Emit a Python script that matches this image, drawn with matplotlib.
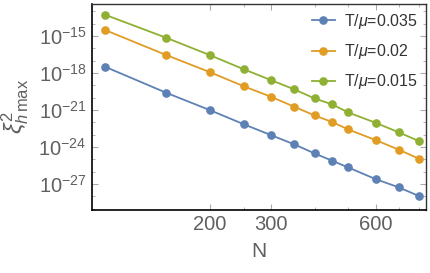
import matplotlib
matplotlib.use('Agg')
import matplotlib.pyplot as plt
import matplotlib.ticker as mticker
import numpy as np

# data (log10 of xi^2_{h max})
N = [100, 150, 200, 250, 300, 350, 400, 450, 500, 600, 700, 800]
exp_035 = [-17.49, -19.60, -21.00, -22.14, -23.03, -23.78, -24.51, -25.11, -25.65, -26.60, -27.27, -27.98]
exp_020 = [-14.51, -16.54, -17.92, -19.06, -19.92, -20.73, -21.43, -21.97, -22.57, -23.43, -24.22, -24.95]
exp_015 = [-13.27, -15.14, -16.54, -17.68, -18.57, -19.32, -20.05, -20.54, -21.19, -22.03, -22.81, -23.52]
labels = ['T/$\\mu$=0.035', 'T/$\\mu$=0.02', 'T/$\\mu$=0.015']
colors = ['#5E81B5', '#E19C24', '#8FB032']

plt.rcParams['font.family'] = ['Liberation Sans', 'DejaVu Sans']
plt.rcParams['mathtext.fontset'] = 'custom'
plt.rcParams['mathtext.rm'] = 'Liberation Sans'
plt.rcParams['mathtext.it'] = 'Liberation Sans:italic'

fig = plt.figure(figsize=(4.31, 2.73), dpi=100)
ax = fig.add_axes([0.2135, 0.2326, 0.7745, 0.7524])

for ys, lab, c in zip([exp_035, exp_020, exp_015], labels, colors):
    ax.plot(N, 10.0 ** np.array(ys), '-o', color=c, lw=1.3, ms=5.2, label=lab)

ax.set_xscale('log')
ax.set_yscale('log')
ax.set_xlim(91.6, 836)
ax.set_ylim(10 ** -29.06, 10 ** -12.40)

ax.xaxis.set_major_locator(mticker.FixedLocator([200, 300, 600]))
ax.xaxis.set_major_formatter(mticker.FixedFormatter(['200', '300', '600']))
ax.xaxis.set_minor_locator(mticker.FixedLocator([250, 400, 500, 700, 800]))
ax.xaxis.set_minor_formatter(mticker.NullFormatter())

ax.yaxis.set_major_locator(mticker.FixedLocator([10.0 ** e for e in [-27, -24, -21, -18, -15]]))
ax.yaxis.set_major_formatter(mticker.FixedFormatter(
    ['$10^{-27}$', '$10^{-24}$', '$10^{-21}$', '$10^{-18}$', '$10^{-15}$']))
ax.yaxis.set_minor_locator(mticker.FixedLocator([10.0 ** e for e in range(-29, -12)]))
ax.yaxis.set_minor_formatter(mticker.NullFormatter())

ax.tick_params(which='both', direction='in', top=True, right=True, color='#aaaaaa',
               labelcolor='#606060', labelsize=14.5, pad=4)
ax.tick_params(which='major', length=4)
ax.tick_params(which='minor', length=2.5)

for s in ['left', 'bottom']:
    ax.spines[s].set_color('black')
    ax.spines[s].set_linewidth(1.2)
for s in ['top', 'right']:
    ax.spines[s].set_color('#333333')
    ax.spines[s].set_linewidth(1.0)

ax.set_xlabel('N', fontsize=15, color='#606060', labelpad=6)
ax.set_ylabel('$\\xi^2_{h\\,\\mathrm{max}}$', fontsize=17, color='#606060', labelpad=5)

leg = ax.legend(loc='upper right', frameon=False, fontsize=11.5, handlelength=1.4,
                labelspacing=0.7, handletextpad=0.6, borderaxespad=0.1)
for t in leg.get_texts():
    t.set_color('#333333')

fig.savefig('out.png', dpi=100)
